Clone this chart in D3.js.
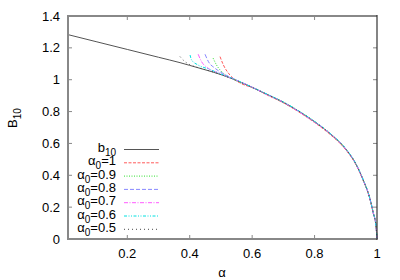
<!DOCTYPE html>
<html>
<head>
<meta charset="utf-8">
<script src="https://cdn.jsdelivr.net/npm/d3@7"></script>
<style>
  body { margin: 0; background: #fff; }
  svg text { font-family: "Liberation Sans", Arial, Helvetica, sans-serif; font-size: 13px; fill: #000; }
</style>
</head>
<body>
<svg id="chart" width="400" height="280"></svg>
<script>
// b10 curve
var b10Alpha = [0.01, 0.1, 0.2, 0.3, 0.369, 0.4, 0.45, 0.5, 0.55, 0.593, 0.625, 0.65, 0.7, 0.75, 0.8, 0.85, 0.9, 0.93, 0.956, 0.975, 0.988, 0.997, 1.0];
var b10Val   = [1.283, 1.239, 1.190, 1.141, 1.107, 1.090, 1.062, 1.032, 0.995, 0.958, 0.928, 0.905, 0.857, 0.800, 0.735, 0.660, 0.563, 0.478, 0.368, 0.268, 0.163, 0.078, 0];

// alpha0 runs
var a10x = [0.497, 0.508, 0.529, 0.561, 0.604, 0.65, 0.7, 0.75, 0.8, 0.85, 0.9, 0.93, 0.956, 0.975, 0.988, 0.997, 1.0];
var a10y = [1.145, 1.092, 1.029, 0.980, 0.948, 0.902, 0.855, 0.797, 0.731, 0.656, 0.560, 0.476, 0.367, 0.268, 0.163, 0.079, 0];
var a09x = [0.475, 0.486, 0.508, 0.540, 0.583, 0.625, 0.65, 0.7, 0.75, 0.8, 0.85, 0.9, 0.93, 0.956, 0.975, 0.988, 0.997, 1.0];
var a09y = [1.135, 1.092, 1.040, 1.002, 0.966, 0.930, 0.907, 0.860, 0.803, 0.738, 0.663, 0.566, 0.481, 0.371, 0.271, 0.166, 0.081, 0];
var a08x = [0.449, 0.460, 0.481, 0.513, 0.550, 0.58, 0.625, 0.7, 0.75, 0.8, 0.85, 0.9, 0.93, 0.956, 0.975, 0.988, 0.997, 1.0];
var a08y = [1.16, 1.113, 1.072, 1.032, 0.998, 0.970, 0.929, 0.858, 0.801, 0.736, 0.661, 0.565, 0.480, 0.370, 0.270, 0.165, 0.080, 0];
var a07x = [0.427, 0.438, 0.459, 0.497, 0.54, 0.6, 0.65, 0.7, 0.75, 0.8, 0.85, 0.9, 0.93, 0.956, 0.975, 0.988, 0.997, 1.0];
var a07y = [1.16, 1.113, 1.072, 1.040, 1.003, 0.954, 0.904, 0.859, 0.799, 0.734, 0.662, 0.564, 0.479, 0.369, 0.269, 0.164, 0.079, 0];
var a06x = [0.401, 0.406, 0.427, 0.459, 0.5, 0.55, 0.6, 0.65, 0.7, 0.75, 0.8, 0.85, 0.9, 0.93, 0.956, 0.975, 0.988, 0.997, 1.0];
var a06y = [1.155, 1.124, 1.092, 1.068, 1.036, 0.997, 0.953, 0.907, 0.860, 0.803, 0.738, 0.663, 0.567, 0.481, 0.371, 0.270, 0.165, 0.080, 0];
var a05x = [0.369, 0.385, 0.401, 0.43, 0.47, 0.52, 0.6, 0.65, 0.7, 0.75, 0.8, 0.85, 0.9, 0.93, 0.956, 0.975, 0.988, 0.997, 1.0];
var a05y = [1.145, 1.113, 1.094, 1.074, 1.052, 1.018, 0.952, 0.906, 0.858, 0.802, 0.737, 0.661, 0.565, 0.480, 0.369, 0.269, 0.164, 0.079, 0];

var seriesLabels = ['1', '0.9', '0.8', '0.7', '0.6', '0.5'];
var xTicks = [0.2, 0.4, 0.6, 0.8, 1];
var yTicks = [0, 0.2, 0.4, 0.6, 0.8, 1, 1.2, 1.4];

var runs = [[a10x, a10y], [a09x, a09y], [a08x, a08y], [a07x, a07y], [a06x, a06y], [a05x, a05y]];
var colors = ['#ff5a5a', '#2ee02e', '#8888ff', '#ff5cff', '#00e0e0', '#484848'];
var dashes = ['3,1.5', '1,1.5', '4,2', '4,1.5,1,1.5', '3,1.5,1,1.5,1,1.5', '1,3'];

var pLeft = 68, pRight = 377, pTop = 16, pBottom = 239;
var svg = d3.select('#chart');

var x = d3.scaleLinear().domain([0.01, 1]).range([pLeft, pRight]);
var y = d3.scaleLinear().domain([0, 1.4]).range([pBottom, pTop]);

// ticks, inward on all four sides
var tickLen = 4;
var ax = svg.append('g');
ax.selectAll('.yl').data(yTicks).enter().append('text')
    .attr('x', pLeft - 8).attr('y', function (d) { return y(d); })
    .attr('dy', '0.35em').attr('text-anchor', 'end')
    .text(function (d) { return d3.format('~g')(d); });
ax.selectAll('.xl').data(xTicks).enter().append('text')
    .attr('x', function (d) { return x(d); }).attr('y', pBottom + 19)
    .attr('text-anchor', 'middle')
    .text(function (d) { return d3.format('~g')(d); });

ax.selectAll('.ty').data(yTicks.slice(1, -1)).enter().append('path')
    .attr('d', function (d) {
        return 'M' + pLeft + ',' + y(d) + 'h' + tickLen + 'M' + pRight + ',' + y(d) + 'h' + (-tickLen);
    })
    .attr('stroke', '#888').attr('stroke-width', 1);
ax.selectAll('.tx').data(xTicks.slice(0, -1)).enter().append('path')
    .attr('d', function (d) {
        return 'M' + x(d) + ',' + pBottom + 'v' + (-tickLen) + 'M' + x(d) + ',' + pTop + 'v' + tickLen;
    })
    .attr('stroke', '#888').attr('stroke-width', 1);

// curves
var line = d3.line().curve(d3.curveMonotoneX);
var plot = svg.append('g');
plot.append('path')
    .attr('d', line(b10Alpha.map(function (a, i) { return [x(a), y(b10Val[i])]; })))
    .attr('fill', 'none').attr('stroke', '#555').attr('stroke-width', 1);
runs.forEach(function (r, k) {
    plot.append('path')
        .attr('d', line(r[0].map(function (a, i) { return [x(a), y(r[1][i])]; })))
        .attr('fill', 'none').attr('stroke', colors[k]).attr('stroke-width', 1)
        .attr('stroke-dasharray', dashes[k]);
});

// frame
svg.append('path')
    .attr('d', 'M' + pRight + ',' + pTop + 'H' + pLeft + 'V' + pBottom + 'H' + pRight)
    .attr('fill', 'none').attr('stroke', '#888').attr('stroke-width', 2);
svg.append('line')
    .attr('x1', pRight).attr('x2', pRight).attr('y1', pTop - 1).attr('y2', pBottom + 1)
    .attr('stroke', '#333').attr('stroke-width', 1.2);

// axis titles
svg.append('text').attr('x', 222).attr('y', 277).attr('text-anchor', 'middle').text('α');
var yt = svg.append('text').attr('transform', 'translate(17,118) rotate(-90)').attr('text-anchor', 'middle');
yt.append('tspan').text('B');
yt.append('tspan').attr('dy', 4).style('font-size', '10px').text('10');

// legend
var legTextX = 116, legX1 = 124, legX2 = 159, legY0 = 149.5, legStep = 13.3;
var lt = svg.append('text').attr('x', legTextX).attr('y', legY0).attr('dy', '0.2em').attr('text-anchor', 'end');
lt.append('tspan').text('b');
lt.append('tspan').attr('dy', 4).style('font-size', '10px').text('10');
svg.append('line').attr('x1', legX1).attr('x2', legX2).attr('y1', legY0).attr('y2', legY0)
    .attr('stroke', '#555').attr('stroke-width', 1);

seriesLabels.forEach(function (lab, k) {
    var ly = legY0 + legStep * (k + 1);
    var t = svg.append('text').attr('x', legTextX).attr('y', ly).attr('dy', '0.2em').attr('text-anchor', 'end');
    t.append('tspan').text('α');
    t.append('tspan').attr('dy', 4).style('font-size', '10px').text('0');
    t.append('tspan').attr('dy', -4).text('=' + lab);
    svg.append('line').attr('x1', legX1).attr('x2', legX2).attr('y1', ly).attr('y2', ly)
        .attr('stroke', colors[k]).attr('stroke-width', 1).attr('stroke-dasharray', dashes[k]);
});
</script>
</body>
</html>
